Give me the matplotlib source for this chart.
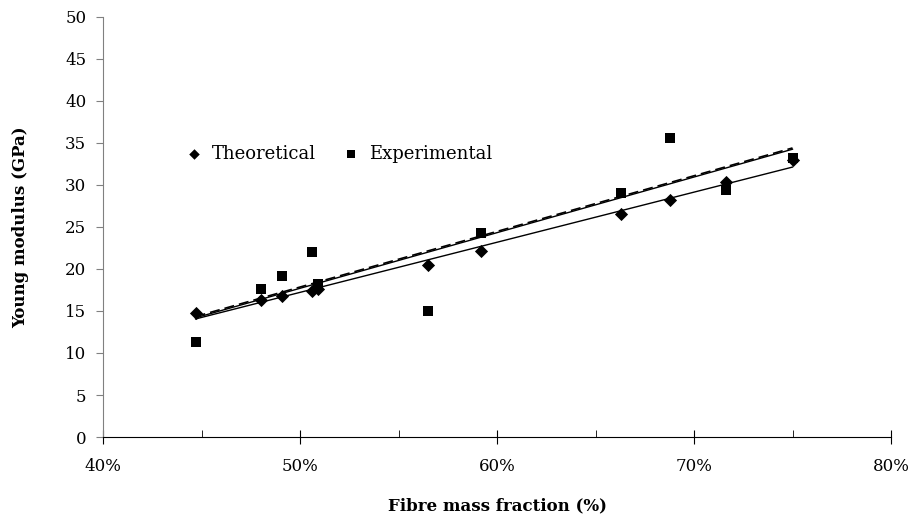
import numpy as np
import matplotlib
matplotlib.use("Agg")
import matplotlib.pyplot as plt
from matplotlib.ticker import MultipleLocator, FuncFormatter

fibre = [44.7, 48.0, 49.1, 50.6, 50.9, 56.5, 59.2, 66.3, 68.8, 71.6, 75.0]
theoretical = [14.8, 16.3, 16.8, 17.4, 17.6, 20.5, 22.1, 26.5, 28.2, 30.3, 33.0]
experimental = [11.3, 17.6, 19.2, 22.0, 18.2, 15.0, 24.3, 29.0, 35.6, 29.4, 33.2]

plt.rcParams['font.family'] = ['DejaVu Serif']

fig = plt.figure(figsize=(9.16, 5.18), dpi=100)
ax = fig.add_axes([103/916, 1-437/518, (891-103)/916, (437-17)/518])

x = np.array(fibre)
xl = np.array([x.min(), x.max()])
pt = np.polyfit(x, theoretical, 1)
pe = np.polyfit(x, experimental, 1)

ax.plot(xl, np.polyval(pt, xl), color='black', lw=1.0, zorder=2)
ax.plot(xl, np.polyval(pe, xl), color='black', lw=1.0, zorder=2)
ax.plot(xl, np.polyval(pe, xl) + 0.15, color='black', lw=1.2, ls=(0, (6, 3)), zorder=2)

ax.scatter(fibre, theoretical, marker='D', s=45, color='black', label='Theoretical', zorder=3, linewidths=0)
ax.scatter(fibre, experimental, marker='s', s=55, color='black', label='Experimental', zorder=3, linewidths=0)

ax.set_xlim(40, 80)
ax.set_ylim(0, 50)
ax.xaxis.set_major_locator(MultipleLocator(10))
ax.xaxis.set_minor_locator(MultipleLocator(5))
ax.yaxis.set_major_locator(MultipleLocator(5))
ax.xaxis.set_major_formatter(FuncFormatter(lambda v, p: f"{v:.0f}%"))

for s in ['top', 'right']:
    ax.spines[s].set_visible(False)
ax.spines['left'].set_color('#808080')
ax.spines['bottom'].set_color('black')
ax.tick_params(axis='y', which='major', direction='out', length=5, color='#808080', labelsize=12, pad=7)
ax.tick_params(axis='x', which='major', direction='inout', length=10, color='black', labelsize=12, pad=10)
ax.tick_params(axis='x', which='minor', direction='in', length=5, color='black')

ax.set_xlabel('Fibre mass fraction (%)', fontsize=12, fontweight='bold', labelpad=16)
ax.set_ylabel('Young modulus (GPa)', fontsize=12, fontweight='bold', labelpad=26)

leg = ax.legend(loc='upper left', bbox_to_anchor=(0.072, 0.735), ncol=2, frameon=False,
                fontsize=13, handletextpad=0.0, columnspacing=0.9, markerscale=0.8)

fig.savefig('out.png', dpi=100)
